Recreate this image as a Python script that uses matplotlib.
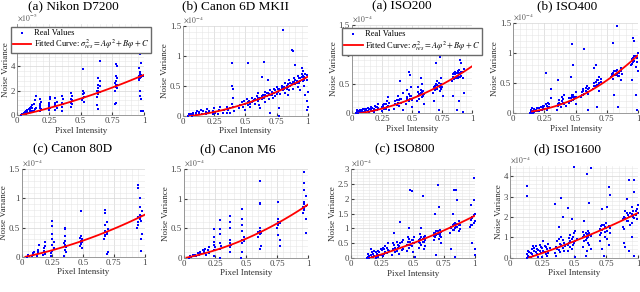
import numpy as np
import matplotlib
matplotlib.use("Agg")
import matplotlib.pyplot as plt
from matplotlib.ticker import MultipleLocator, FuncFormatter

plt.rcParams['font.family'] = ['Liberation Serif', 'DejaVu Serif']
plt.rcParams['mathtext.fontset'] = 'stix'

titles = ["(a) Nikon D7200", "(b) Canon 6D MKII", "(a) ISO200", "(b) ISO400",
          "(c) Canon 80D", "(d) Canon M6", "(c) ISO800", "(d) ISO1600"]
exponents = [-5, -4, -4, -4, -4, -4, -4, -4]
y_tops = [7.5, 1.5, 1.5, 1.5, 1.5, 1.5, 3.0, 4.5]
y_steps = [2, 0.5, 0.5, 0.5, 0.5, 0.5, 0.5, 1]
# fitted curve coefficients (A, B, C) in axis units and start of the curve
coeffs = [(1.06, 2.31, -0.07), (0.46, 0.21, -0.02), (0.56, 0.26, -0.02), (0.96, 0.0, 0.01),
          (0.30, 0.43, -0.01), (0.50, 0.41, -0.01), (0.508, 1.098, -0.176), (0.605, 1.89, -0.295)]
curve_start = [0.03, 0.05, 0.04, 0.15, 0.03, 0.02, 0.15, 0.15]

pts_nikon = [
    (0.03, 0.02), (0.04, 0.05), (0.05, 0.08), (0.05, 0.15), (0.06, 0.10), (0.06, 0.25), (0.07, 0.12),
    (0.07, 0.30), (0.08, 0.20), (0.08, 0.40), (0.09, 0.15), (0.09, 0.50), (0.10, 0.30), (0.10, 0.60),
    (0.11, 0.25), (0.11, 0.70), (0.12, 0.35), (0.12, 0.80), (0.13, 0.30), (0.13, 0.90), (0.14, 0.50),
    (0.14, 1.20), (0.15, 0.60), (0.15, 1.55), (0.12, 0.55), (0.10, 0.45), (0.08, 0.30), (0.06, 0.18),
    (0.18, 0.30), (0.18, 0.60), (0.18, 0.90), (0.18, 1.30), (0.19, 0.50), (0.19, 1.10), (0.18, 0.75),
    (0.25, 0.40), (0.25, 0.70), (0.25, 1.00), (0.26, 0.55), (0.26, 1.30), (0.26, 1.50), (0.25, 0.85),
    (0.30, 0.40), (0.30, 0.80), (0.30, 1.40), (0.31, 0.60), (0.31, 1.10), (0.30, 0.95),
    (0.35, 0.30), (0.35, 0.70), (0.35, 1.00), (0.35, 1.60), (0.36, 0.90), (0.36, 1.30),
    (0.42, 0.70), (0.42, 1.00), (0.42, 1.30), (0.42, 1.80), (0.43, 0.90), (0.43, 1.20), (0.43, 1.60),
    (0.51, 1.20), (0.52, 1.40), (0.52, 1.70), (0.52, 2.00), (0.52, 3.80), (0.53, 1.10), (0.53, 1.50),
    (0.53, 1.80), (0.63, 1.50), (0.63, 2.00), (0.64, 1.70), (0.64, 2.20), (0.64, 2.50), (0.64, 3.00),
    (0.65, 1.90), (0.65, 2.40), (0.65, 4.40), (0.64, 0.50), (0.63, 0.80), (0.65, 2.80), (0.64, 2.00),
    (0.77, 2.00), (0.77, 2.60), (0.78, 2.30), (0.78, 2.80), (0.78, 3.20), (0.78, 5.40), (0.79, 2.50),
    (0.79, 3.00), (0.78, 4.20), (0.79, 4.00), (0.78, 1.00), (0.77, 0.90), (0.79, 2.20), (0.78, 2.45),
    (0.96, 2.90), (0.96, 3.20), (0.97, 3.00), (0.97, 3.40), (0.97, 3.50), (0.97, 5.00), (0.98, 3.10),
    (0.98, 3.30), (0.98, 4.30), (0.97, 2.00), (0.97, 1.60), (0.98, 1.30), (0.99, 0.35), (0.98, 0.30),
    (0.96, 3.90), (0.99, 3.20), (0.97, 3.25), (0.96, 3.05)]

pts_6d = [
    (0.04, 0.00), (0.05, 0.01), (0.05, 0.03), (0.06, 0.02), (0.07, 0.00), (0.08, 0.03), (0.08, 0.05),
    (0.10, 0.01), (0.10, 0.04), (0.11, 0.07), (0.13, 0.02), (0.13, 0.06), (0.14, 0.10), (0.15, 0.03),
    (0.16, 0.08), (0.18, 0.02), (0.18, 0.06), (0.19, 0.11), (0.20, 0.04), (0.21, 0.08), (0.24, 0.02),
    (0.24, 0.07), (0.25, 0.12), (0.26, 0.05), (0.28, 0.03), (0.29, 0.09), (0.30, 0.14), (0.32, 0.05),
    (0.33, 0.10), (0.35, 0.04), (0.35, 0.15), (0.36, 0.09),
    (0.38, 0.05), (0.38, 0.12), (0.39, 0.20), (0.39, 0.87), (0.39, 0.50), (0.40, 0.45), (0.40, 0.30),
    (0.40, 0.15), (0.41, 0.08),
    (0.45, 0.12), (0.46, 0.18), (0.47, 0.22), (0.48, 0.15), (0.49, 0.25), (0.50, 0.20), (0.50, 0.10),
    (0.51, 0.28), (0.52, 0.87), (0.52, 0.18), (0.53, 0.24), (0.54, 0.15), (0.55, 0.30), (0.55, 0.22),
    (0.57, 0.26), (0.58, 0.20), (0.59, 0.32), (0.60, 0.25), (0.60, 0.38), (0.61, 0.18), (0.62, 0.30),
    (0.63, 0.65), (0.63, 0.28), (0.64, 0.35), (0.65, 0.90), (0.65, 0.30), (0.66, 0.40), (0.66, 0.22),
    (0.67, 0.33), (0.68, 0.60), (0.68, 0.37), (0.69, 0.28), (0.70, 0.05), (0.70, 0.42), (0.71, 0.35),
    (0.72, 0.30), (0.73, 0.45), (0.73, 0.38), (0.74, 0.33), (0.75, 0.48), (0.76, 0.40), (0.77, 0.00),
    (0.77, 0.12), (0.77, 0.44), (0.78, 0.36), (0.79, 0.50), (0.80, 1.42), (0.80, 0.42), (0.81, 0.47),
    (0.82, 0.55), (0.82, 0.38), (0.83, 0.45), (0.84, 0.52), (0.85, 0.60), (0.85, 0.43), (0.86, 0.50),
    (0.87, 1.10), (0.88, 1.08), (0.88, 0.56), (0.88, 0.45), (0.89, 0.62), (0.90, 0.85), (0.90, 0.52),
    (0.91, 0.58), (0.92, 0.66), (0.92, 0.48), (0.93, 0.55), (0.94, 0.62), (0.95, 0.80), (0.95, 0.70),
    (0.96, 0.58), (0.96, 0.75), (0.97, 0.64), (0.97, 0.50), (0.98, 0.70), (0.98, 0.35), (0.99, 0.60),
    (0.99, 0.25), (1.00, 0.15), (1.00, 0.40), (0.99, 0.10), (0.94, 0.42), (0.84, 0.35), (0.62, 0.12),
    (0.52, 0.22), (0.54, 0.20), (0.56, 0.25), (0.58, 0.28), (0.60, 0.30), (0.61, 0.27), (0.63, 0.33),
    (0.64, 0.30), (0.66, 0.34), (0.67, 0.38), (0.69, 0.36), (0.70, 0.34), (0.71, 0.40), (0.72, 0.38),
    (0.74, 0.42), (0.75, 0.36), (0.76, 0.44), (0.78, 0.42), (0.79, 0.46), (0.80, 0.48), (0.81, 0.44),
    (0.83, 0.50), (0.84, 0.48), (0.86, 0.54), (0.87, 0.52), (0.89, 0.56), (0.90, 0.60), (0.91, 0.54),
    (0.93, 0.62), (0.94, 0.58), (0.95, 0.64), (0.96, 0.66), (0.97, 0.60), (0.98, 0.62), (0.99, 0.68)]

pts_iso200 = [
    (0.03, 0.00), (0.04, 0.02), (0.05, 0.01), (0.06, 0.04), (0.07, 0.02), (0.08, 0.06), (0.09, 0.03),
    (0.10, 0.07), (0.11, 0.02), (0.12, 0.05), (0.13, 0.09), (0.14, 0.03), (0.15, 0.07), (0.16, 0.11),
    (0.17, 0.04), (0.18, 0.08), (0.19, 0.13), (0.20, 0.05), (0.21, 0.10), (0.22, 0.15), (0.18, 0.02),
    (0.04, 0.05), (0.05, 0.03), (0.07, 0.05), (0.08, 0.02), (0.09, 0.07), (0.11, 0.05), (0.12, 0.08),
    (0.13, 0.04), (0.14, 0.08), (0.16, 0.05), (0.17, 0.09), (0.19, 0.06), (0.20, 0.11), (0.21, 0.06),
    (0.22, 0.09),
    (0.25, 0.04), (0.26, 0.10), (0.27, 0.16), (0.28, 0.07), (0.29, 0.20), (0.30, 0.12), (0.30, 0.28),
    (0.31, 0.05), (0.25, 0.10), (0.26, 0.14), (0.27, 0.08), (0.28, 0.15), (0.29, 0.10), (0.31, 0.18),
    (0.35, 0.08), (0.36, 0.15), (0.37, 0.22), (0.38, 0.30), (0.39, 0.12), (0.40, 0.25), (0.40, 0.55),
    (0.41, 0.18), (0.42, 0.35), (0.42, 0.05), (0.36, 0.20), (0.37, 0.14), (0.38, 0.18), (0.39, 0.22),
    (0.41, 0.24),
    (0.45, 0.15), (0.46, 0.25), (0.46, 0.40), (0.47, 0.70), (0.47, 0.20), (0.48, 0.30), (0.48, 0.65),
    (0.49, 0.45), (0.50, 0.22), (0.50, 0.10), (0.46, 0.28), (0.47, 0.32), (0.48, 0.24), (0.49, 0.30),
    (0.54, 0.20), (0.55, 0.30), (0.55, 0.45), (0.56, 0.25), (0.56, 0.02), (0.57, 0.35), (0.57, 0.60),
    (0.58, 0.28), (0.58, 0.50), (0.59, 0.38), (0.60, 0.15), (0.60, 0.32), (0.55, 0.36), (0.56, 0.32),
    (0.57, 0.40), (0.58, 0.36), (0.59, 0.30),
    (0.67, 0.35), (0.68, 0.45), (0.68, 0.20), (0.69, 0.40), (0.70, 0.50), (0.70, 0.85), (0.71, 0.42),
    (0.71, 0.55), (0.72, 0.46), (0.72, 0.05), (0.73, 0.95), (0.73, 0.38), (0.74, 0.50), (0.74, 0.60),
    (0.75, 0.44), (0.76, 0.30), (0.69, 0.46), (0.70, 0.42), (0.71, 0.48), (0.72, 0.52), (0.73, 0.45),
    (0.74, 0.42),
    (0.83, 0.55), (0.84, 0.62), (0.84, 0.30), (0.85, 0.58), (0.86, 0.66), (0.86, 0.70), (0.87, 0.60),
    (0.87, 0.05), (0.88, 0.64), (0.88, 0.72), (0.89, 0.68), (0.89, 0.20), (0.90, 0.90), (0.90, 0.62),
    (0.91, 0.70), (0.91, 0.85), (0.92, 0.60), (0.92, 0.02), (0.93, 0.75), (0.93, 0.35), (0.84, 0.66),
    (0.85, 0.68), (0.86, 0.60), (0.87, 0.68), (0.88, 0.60), (0.89, 0.74), (0.90, 0.66), (0.91, 0.64),
    (0.92, 0.70)]

pts_iso400 = [
    (0.13, 0.00), (0.14, 0.02), (0.15, 0.01), (0.16, 0.04), (0.17, 0.02), (0.18, 0.06), (0.19, 0.03),
    (0.20, 0.08), (0.21, 0.04), (0.22, 0.10), (0.23, 0.05), (0.24, 0.12), (0.25, 0.07), (0.26, 0.68),
    (0.26, 0.15), (0.27, 0.06), (0.28, 0.18), (0.29, 0.10), (0.30, 0.25), (0.30, 0.40), (0.15, 0.08),
    (0.14, 0.05), (0.16, 0.01), (0.17, 0.07), (0.18, 0.03), (0.19, 0.08), (0.20, 0.04), (0.21, 0.09),
    (0.22, 0.06), (0.23, 0.11), (0.24, 0.08), (0.25, 0.13), (0.27, 0.12), (0.28, 0.09), (0.29, 0.15),
    (0.35, 0.05), (0.36, 0.55), (0.36, 0.15), (0.37, 0.22), (0.38, 0.10), (0.39, 0.28), (0.40, 0.18),
    (0.41, 0.30), (0.42, 0.12), (0.36, 0.12), (0.37, 0.18), (0.38, 0.15), (0.39, 0.20), (0.40, 0.24),
    (0.41, 0.16),
    (0.45, 0.18), (0.46, 0.25), (0.46, 0.60), (0.47, 1.15), (0.47, 0.30), (0.48, 0.22), (0.48, 0.80),
    (0.49, 0.28), (0.50, 0.35), (0.50, 0.15), (0.45, 0.25), (0.46, 0.20), (0.47, 0.27), (0.48, 0.30),
    (0.49, 0.24), (0.50, 0.28),
    (0.54, 0.28), (0.55, 0.35), (0.56, 0.40), (0.56, 0.30), (0.57, 1.08), (0.58, 0.38), (0.59, 0.45),
    (0.60, 0.32), (0.60, 0.05), (0.61, 0.42), (0.55, 0.30), (0.56, 0.38), (0.57, 0.33), (0.58, 0.42),
    (0.59, 0.36), (0.60, 0.40),
    (0.64, 0.40), (0.65, 0.50), (0.65, 0.75), (0.66, 0.45), (0.66, 0.80), (0.67, 0.55), (0.67, 0.10),
    (0.68, 0.48), (0.69, 0.60), (0.69, 0.38), (0.70, 0.52), (0.65, 0.45), (0.66, 0.52), (0.67, 0.48),
    (0.68, 0.55), (0.69, 0.50), (0.70, 0.58),
    (0.78, 0.60), (0.79, 0.66), (0.80, 1.18), (0.80, 0.58), (0.81, 0.70), (0.81, 0.30), (0.82, 0.64),
    (0.83, 1.45), (0.83, 0.72), (0.84, 0.62), (0.84, 0.10), (0.85, 0.68), (0.86, 0.75), (0.86, 0.56),
    (0.87, 0.66), (0.79, 0.62), (0.80, 0.68), (0.81, 0.64), (0.82, 0.70), (0.83, 0.65), (0.84, 0.68),
    (0.85, 0.62), (0.86, 0.70),
    (0.94, 0.80), (0.95, 0.90), (0.95, 0.55), (0.96, 1.25), (0.96, 0.85), (0.97, 1.20), (0.97, 0.95),
    (0.98, 0.78), (0.98, 0.30), (0.99, 0.92), (0.99, 0.05), (1.00, 1.00), (1.00, 0.70), (0.95, 0.82),
    (0.96, 0.92), (0.97, 0.88), (0.98, 0.95), (0.99, 0.85)]

pts_80d = [
    (0.04, 0.00), (0.05, 0.02), (0.05, 0.04), (0.06, 0.01), (0.08, 0.01), (0.09, 0.03), (0.09, 0.06),
    (0.10, 0.08), (0.12, 0.02), (0.13, 0.06), (0.13, 0.12), (0.14, 0.20), (0.17, 0.03), (0.18, 0.08),
    (0.18, 0.15), (0.19, 0.25), (0.19, 0.05), (0.13, 0.09), (0.18, 0.11), (0.19, 0.18),
    (0.24, 0.02), (0.25, 0.10), (0.25, 0.20), (0.25, 0.30), (0.25, 0.40), (0.25, 0.52), (0.25, 0.62),
    (0.26, 0.15), (0.26, 0.25), (0.24, 0.06),
    (0.34, 0.02), (0.35, 0.12), (0.35, 0.20), (0.35, 0.28), (0.35, 0.35), (0.35, 0.47), (0.35, 0.50),
    (0.36, 0.08), (0.36, 0.17), (0.34, 0.24),
    (0.47, 0.18), (0.48, 0.22), (0.48, 0.28), (0.48, 0.35), (0.48, 0.78), (0.49, 0.25), (0.49, 0.30),
    (0.49, 0.15), (0.47, 0.32), (0.48, 0.26),
    (0.67, 0.30), (0.68, 0.38), (0.68, 0.45), (0.68, 0.55), (0.68, 0.80), (0.68, 0.75), (0.69, 0.60),
    (0.69, 0.05), (0.69, 0.40), (0.70, 0.48), (0.70, 0.08), (0.69, 0.43), (0.68, 0.35),
    (0.94, 0.50), (0.95, 0.60), (0.95, 0.68), (0.95, 1.22), (0.95, 1.17), (0.96, 0.72), (0.96, 0.64),
    (0.96, 1.00), (0.96, 0.85), (0.97, 0.62), (0.97, 0.10), (0.97, 0.30), (0.98, 0.78), (0.98, 0.40),
    (0.96, 0.66), (0.97, 0.70), (0.95, 0.55)]

pts_m6 = [
    (0.04, 0.00), (0.05, 0.02), (0.06, 0.01), (0.07, 0.04), (0.08, 0.02), (0.09, 0.05), (0.10, 0.03),
    (0.11, 0.08), (0.12, 0.04), (0.13, 0.10), (0.14, 0.06), (0.15, 0.13), (0.16, 0.08), (0.17, 0.15),
    (0.18, 0.05), (0.19, 0.12), (0.20, 0.18), (0.20, 0.08), (0.12, 0.07), (0.16, 0.11),
    (0.24, 0.02), (0.24, 0.12), (0.24, 0.22), (0.24, 0.35), (0.24, 0.48), (0.25, 0.18), (0.24, 0.27),
    (0.29, 0.00), (0.29, 0.15), (0.29, 0.25), (0.29, 0.40), (0.29, 0.48), (0.29, 0.64), (0.30, 0.20),
    (0.37, 0.10), (0.37, 0.18), (0.37, 0.25), (0.37, 0.30), (0.37, 0.50), (0.37, 0.60), (0.37, 0.70),
    (0.38, 0.22),
    (0.46, 0.00), (0.47, 0.10), (0.47, 0.25), (0.47, 0.30), (0.47, 0.45), (0.47, 0.55), (0.47, 0.65),
    (0.47, 0.82), (0.48, 0.35), (0.48, 0.28),
    (0.60, 0.35), (0.61, 0.40), (0.61, 0.45), (0.61, 0.50), (0.61, 0.90), (0.61, 0.92), (0.61, 1.30),
    (0.61, 0.15), (0.62, 0.20), (0.62, 0.42), (0.60, 0.44),
    (0.75, 0.50), (0.76, 0.55), (0.76, 0.60), (0.76, 0.65), (0.76, 0.95), (0.76, 0.38), (0.77, 0.30),
    (0.77, 0.20), (0.77, 0.58), (0.76, 0.57),
    (0.96, 0.75), (0.96, 0.85), (0.97, 0.80), (0.97, 0.90), (0.97, 0.95), (0.97, 1.45), (0.97, 1.27),
    (0.97, 1.15), (0.98, 1.05), (0.98, 0.65), (0.98, 0.42), (0.98, 0.88), (0.97, 0.84)]

pts_iso800 = [
    (0.13, 0.00), (0.14, 0.05), (0.15, 0.02), (0.16, 0.10), (0.17, 0.04), (0.18, 0.15), (0.19, 0.06),
    (0.20, 0.20), (0.21, 0.08), (0.22, 0.25), (0.23, 0.10), (0.24, 0.30), (0.25, 0.12), (0.26, 0.35),
    (0.27, 0.15), (0.28, 0.40), (0.29, 0.18), (0.30, 0.28), (0.30, 0.50), (0.16, 0.30), (0.20, 0.02),
    (0.14, 0.15), (0.15, 0.08), (0.17, 0.20), (0.18, 0.03), (0.19, 0.25), (0.21, 0.15), (0.22, 0.05),
    (0.23, 0.22), (0.24, 0.12), (0.25, 0.28), (0.26, 0.08), (0.27, 0.30), (0.28, 0.20), (0.29, 0.35),
    (0.31, 0.25),
    (0.33, 0.10), (0.34, 0.30), (0.35, 0.85), (0.35, 0.45), (0.36, 0.20), (0.37, 0.55), (0.38, 0.35),
    (0.39, 0.15), (0.40, 1.22), (0.40, 0.50), (0.41, 0.28), (0.42, 0.60), (0.34, 0.50), (0.36, 0.35),
    (0.37, 0.25), (0.38, 0.45), (0.39, 0.40), (0.41, 0.55), (0.42, 0.30),
    (0.45, 0.25), (0.46, 0.45), (0.46, 0.70), (0.47, 1.00), (0.47, 0.35), (0.48, 2.30), (0.48, 0.55),
    (0.49, 2.25), (0.49, 0.40), (0.50, 0.60), (0.50, 0.20), (0.51, 0.50), (0.52, 0.05), (0.45, 0.45),
    (0.46, 0.55), (0.47, 0.65), (0.48, 0.45), (0.49, 0.60), (0.50, 0.50), (0.51, 0.70),
    (0.55, 0.35), (0.55, 0.60), (0.56, 0.50), (0.56, 0.80), (0.57, 0.45), (0.57, 1.00), (0.58, 2.10),
    (0.58, 0.65), (0.59, 0.55), (0.59, 0.30), (0.60, 0.75), (0.60, 0.40), (0.55, 0.55), (0.56, 0.65),
    (0.57, 0.70), (0.58, 0.55), (0.59, 0.72), (0.60, 0.60),
    (0.67, 0.60), (0.67, 0.85), (0.68, 0.70), (0.68, 1.50), (0.69, 0.90), (0.69, 0.10), (0.70, 2.47),
    (0.70, 0.80), (0.71, 1.72), (0.71, 0.65), (0.72, 0.95), (0.72, 0.75), (0.73, 0.50), (0.73, 0.88),
    (0.67, 0.75), (0.68, 0.85), (0.69, 0.78), (0.70, 0.92), (0.71, 0.85), (0.72, 0.80), (0.73, 0.70),
    (0.80, 0.85), (0.81, 1.00), (0.81, 0.30), (0.82, 1.10), (0.82, 1.50), (0.83, 2.28), (0.83, 0.95),
    (0.84, 1.20), (0.84, 0.05), (0.85, 1.05), (0.85, 2.28), (0.86, 1.95), (0.86, 1.15), (0.87, 0.90),
    (0.87, 1.25), (0.88, 1.10), (0.81, 1.05), (0.82, 0.95), (0.83, 1.15), (0.84, 1.00), (0.85, 1.15),
    (0.86, 1.05), (0.87, 1.12), (0.88, 0.98),
    (0.96, 1.05), (0.97, 1.30), (0.97, 1.80), (0.98, 1.40), (0.98, 0.50), (0.99, 2.70), (0.99, 1.20),
    (0.99, 1.95), (1.00, 1.50), (1.00, 0.30), (1.00, 0.10), (0.98, 1.10), (0.97, 1.10), (0.98, 1.35),
    (0.99, 1.45), (1.00, 1.25)]

pts_iso1600 = [
    (0.13, 0.00), (0.13, 0.15), (0.13, 3.50), (0.13, 3.05), (0.14, 0.30), (0.15, 0.05), (0.16, 0.20),
    (0.17, 0.40), (0.18, 0.10), (0.19, 0.30), (0.20, 0.55), (0.21, 0.15), (0.22, 0.35), (0.23, 0.60),
    (0.24, 0.20), (0.25, 0.45), (0.26, 0.80), (0.27, 0.25), (0.28, 0.50), (0.29, 0.10), (0.30, 0.65),
    (0.18, 0.55), (0.25, 0.02), (0.14, 0.10), (0.15, 0.25), (0.16, 0.05), (0.17, 0.15), (0.19, 0.45),
    (0.20, 0.25), (0.21, 0.40), (0.22, 0.05), (0.23, 0.30), (0.24, 0.50), (0.26, 0.30), (0.27, 0.55),
    (0.28, 0.15), (0.29, 0.40), (0.30, 0.20), (0.31, 0.45),
    (0.35, 0.20), (0.35, 2.65), (0.36, 0.50), (0.37, 0.80), (0.38, 0.35), (0.38, 1.50), (0.39, 0.65),
    (0.40, 2.95), (0.40, 1.00), (0.41, 0.45), (0.41, 2.00), (0.42, 0.70), (0.36, 0.10), (0.37, 0.40),
    (0.38, 0.90), (0.39, 0.25), (0.40, 0.60), (0.41, 0.85), (0.42, 0.30), (0.43, 0.55),
    (0.45, 0.30), (0.45, 2.45), (0.46, 0.70), (0.47, 1.10), (0.47, 0.50), (0.48, 0.90), (0.48, 1.90),
    (0.49, 0.60), (0.50, 4.45), (0.50, 1.20), (0.51, 0.80), (0.51, 0.05), (0.45, 0.60), (0.46, 0.95),
    (0.47, 0.80), (0.48, 0.40), (0.49, 1.00), (0.50, 0.70), (0.51, 1.30), (0.52, 0.90),
    (0.57, 0.50), (0.57, 1.00), (0.58, 0.80), (0.58, 1.80), (0.59, 1.20), (0.59, 0.10), (0.60, 4.10),
    (0.60, 0.95), (0.61, 1.30), (0.61, 0.70), (0.62, 2.70), (0.62, 1.10), (0.63, 4.40), (0.63, 0.40),
    (0.57, 1.25), (0.58, 1.10), (0.59, 0.85), (0.60, 1.15), (0.61, 1.00), (0.62, 1.20), (0.62, 0.60),
    (0.63, 1.05), (0.60, 0.30),
    (0.70, 0.80), (0.70, 1.40), (0.71, 1.20), (0.72, 2.40), (0.72, 1.60), (0.73, 0.10), (0.74, 1.50),
    (0.74, 1.00), (0.75, 1.70), (0.76, 2.50), (0.76, 1.30), (0.77, 3.45), (0.77, 0.60), (0.78, 3.10),
    (0.78, 1.45), (0.70, 1.10), (0.71, 1.55), (0.72, 1.35), (0.73, 1.60), (0.74, 1.25), (0.75, 1.45),
    (0.76, 0.90), (0.77, 1.55), (0.78, 1.20), (0.72, 0.40),
    (0.88, 1.50), (0.89, 2.00), (0.89, 0.70), (0.90, 2.30), (0.91, 1.80), (0.91, 2.90), (0.92, 2.10),
    (0.93, 3.80), (0.93, 0.30), (0.94, 2.20), (0.95, 1.70), (0.95, 2.50), (0.96, 2.00), (0.97, 3.80),
    (0.97, 3.25), (0.97, 0.10), (0.98, 2.30), (0.99, 1.90), (1.00, 2.60), (1.00, 2.20), (0.88, 1.90),
    (0.89, 1.40), (0.90, 1.95), (0.91, 2.20), (0.92, 1.80), (0.93, 2.00), (0.94, 1.60), (0.95, 2.15),
    (0.96, 2.30), (0.97, 1.95), (0.98, 2.10), (0.99, 2.40), (0.90, 0.50), (0.95, 1.00)]

points = [pts_nikon, pts_6d, pts_iso200, pts_iso400, pts_80d, pts_m6, pts_iso800, pts_iso1600]

# axes boxes (left, bottom, width, height) in figure fractions
boxes = [(0.027, 0.606, 0.198, 0.313), (0.286, 0.604, 0.195, 0.308),
         (0.550, 0.612, 0.188, 0.303), (0.802, 0.612, 0.195, 0.308),
         (0.034, 0.120, 0.192, 0.301), (0.2875, 0.118, 0.194, 0.303),
         (0.548, 0.116, 0.194, 0.305), (0.797, 0.118, 0.200, 0.313)]
title_pos = [(73, 6), (236, 6), (402, 6), (567, 6), (73, 149), (238, 149), (405, 149), (567, 149)]

fig = plt.figure(figsize=(6.4, 2.92), dpi=100)

for i in range(8):
    ax = fig.add_axes(boxes[i])
    xs = [p[0] for p in points[i]]
    ys = [p[1] for p in points[i]]
    ax.scatter(xs, ys, s=3.5, marker='s', color='blue', linewidths=0, zorder=3, label='Real Values')
    A, B, C = coeffs[i]
    xc = np.linspace(curve_start[i], 1, 100)
    ax.plot(xc, A * xc ** 2 + B * xc + C, color='red', lw=1.3, zorder=4,
            label=r'Fitted Curve: $\sigma^2_{res} = A\varphi^2 + B\varphi + C$')
    ax.set_xlim(0, 1)
    ax.set_ylim(0, y_tops[i])
    ax.set_xticks([0, 0.25, 0.5, 0.75, 1])
    ax.set_xticklabels(['0', '0.25', '0.5', '0.75', '1'])
    ax.yaxis.set_major_locator(MultipleLocator(y_steps[i]))
    ax.yaxis.set_major_formatter(FuncFormatter(lambda v, p: '%g' % v))
    ax.xaxis.set_minor_locator(MultipleLocator(0.05))
    ax.yaxis.set_minor_locator(MultipleLocator(y_steps[i] / 5))
    ax.grid(True, which='major', color='#d6d6d6', lw=0.5)
    ax.grid(True, which='minor', color='#e6e6e6', lw=0.4)
    ax.set_axisbelow(True)
    for s in ['top', 'right']:
        ax.spines[s].set_visible(False)
    for s in ['left', 'bottom']:
        ax.spines[s].set_color('#8a8a8a')
        ax.spines[s].set_linewidth(0.6)
    ax.tick_params(which='both', direction='in', labelsize=6.3, colors='#404040', length=0, pad=1.5)
    ax.tick_params(which='major', length=2)
    ax.set_xlabel('Pixel Intensity', fontsize=6.5, labelpad=1, color='#303030')
    ax.set_ylabel('Noise Variance', fontsize=6.5, labelpad=0.5, color='#303030')
    ax.text(0.0, 1.01, r'$\times10^{%d}$' % exponents[i], transform=ax.transAxes,
            fontsize=5.5, color='#505050', va='bottom', ha='left')
    if i in (0, 2):
        ax.legend(loc='upper center', bbox_to_anchor=(0.5, 0.985), fontsize=6, frameon=True,
                  fancybox=False, edgecolor='#6a6a6a', framealpha=1, borderpad=0.25,
                  labelspacing=0.1, handlelength=2.2, handletextpad=0.3, markerscale=1.0,
                  borderaxespad=0.2)
    tx, ty = title_pos[i]
    fig.text(tx / 640, 1 - ty / 292, titles[i], ha='center', va='center', fontsize=9.5)

fig.savefig('out.png', dpi=100)
